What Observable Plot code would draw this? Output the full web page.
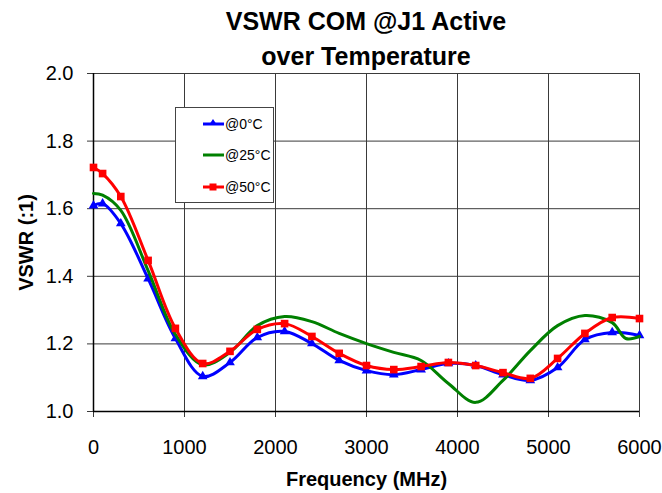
<!DOCTYPE html>
<html>
<head>
<meta charset="utf-8">
<script src="https://cdn.jsdelivr.net/npm/d3@7"></script>
<script src="https://cdn.jsdelivr.net/npm/@observablehq/plot@0.6"></script>
<style>
  html, body { margin: 0; padding: 0; background: #fff; }
  #wrap { position: relative; width: 662px; height: 493px; font-family: "Liberation Sans", Arial, sans-serif; }
  .title { position: relative; height: 62px; }
  .tline { position: absolute; left: 93px; width: 546px; text-align: center; font-size: 25px; line-height: 25px; font-weight: bold; color: #000; white-space: nowrap; }
  #legend { position: absolute; left: 175px; top: 107px; width: 99px; height: 96px; box-sizing: border-box; border: 1px solid #444; background: #fff; }
  .item { position: absolute; left: 27px; height: 16px; display: flex; align-items: center; font-size: 14px; color: #000; }
  .item svg { display: block; margin-right: 1px; }
</style>
</head>
<body>
<div id="wrap">
  <div class="title">
    <div class="tline" style="top:9px">VSWR COM @J1 Active</div>
    <div class="tline" style="top:44px">over Temperature</div>
  </div>
  <div id="chart"></div>
  <div id="legend"></div>
</div>
<script>
// ---- data ----
const freq = [0, 100, 300, 600, 900, 1200, 1500, 1800, 2100, 2400, 2700, 3000, 3300, 3600, 3900, 4200, 4500, 4800, 5100, 5400, 5700, 6000];
const vswr0C  = [1.609, 1.615, 1.556, 1.393, 1.216, 1.104, 1.145, 1.219, 1.237, 1.201, 1.151, 1.121, 1.109, 1.124, 1.142, 1.136, 1.109, 1.092, 1.130, 1.213, 1.234, 1.225];
const vswr50C = [1.722, 1.704, 1.636, 1.447, 1.246, 1.142, 1.178, 1.243, 1.260, 1.222, 1.172, 1.136, 1.124, 1.133, 1.145, 1.136, 1.115, 1.098, 1.157, 1.231, 1.278, 1.275];
const freq25C = [0, 100, 300, 600, 900, 1200, 1500, 1800, 2100, 2400, 2700, 3000, 3300, 3600, 3900, 4200, 4500, 4800, 5100, 5400, 5700, 5850, 6000];
const vswr25C = [1.645, 1.640, 1.595, 1.417, 1.228, 1.138, 1.175, 1.254, 1.281, 1.266, 1.231, 1.201, 1.175, 1.151, 1.083, 1.027, 1.092, 1.180, 1.254, 1.284, 1.263, 1.216, 1.222];
const seriesNames = ["@0°C", "@25°C", "@50°C"];
const seriesColors = ["#0000ff", "#008000", "#ff0000"];
const xTicks = [0, 1000, 2000, 3000, 4000, 5000, 6000];
const yTicks = [1.0, 1.2, 1.4, 1.6, 1.8, 2.0];
const xLabel = "Frequency (MHz)";
const yLabel = "VSWR (:1)";

const d0 = freq.map((f, i) => ({f, v: vswr0C[i]}));
const d50 = freq.map((f, i) => ({f, v: vswr50C[i]}));
const d25 = freq25C.map((f, i) => ({f, v: vswr25C[i]}));

const chart = Plot.plot({
  width: 662,
  height: 431,
  marginTop: 11,
  marginLeft: 93,
  marginRight: 23,
  marginBottom: 82,
  style: {fontFamily: '"Liberation Sans", Arial, sans-serif', fontSize: "20px", color: "#000", background: "#fff", overflow: "visible"},
  x: {domain: [0, 6000]},
  y: {domain: [1, 2]},
  marks: [
    Plot.ruleX(xTicks.slice(1), {stroke: "#3a3a3a", strokeWidth: 1}),
    Plot.ruleY(yTicks.slice(1), {stroke: "#3a3a3a", strokeWidth: 1}),
    Plot.axisX({ticks: xTicks, tickSize: 6, tickPadding: 22, tickFormat: d => String(d), stroke: "#3a3a3a",
      label: xLabel, labelAnchor: "center", labelOffset: 74, labelArrow: "none"}),
    Plot.axisY({ticks: yTicks, tickSize: 6, tickPadding: 14, tickFormat: d => d.toFixed(1), stroke: "#3a3a3a",
      label: yLabel, labelAnchor: "center", labelOffset: 75, labelArrow: "none"}),
    Plot.ruleX([0], {stroke: "#000", strokeWidth: 1.5}),
    Plot.ruleY([1], {stroke: "#000", strokeWidth: 1.5}),
    Plot.line(d0, {x: "f", y: "v", curve: "catmull-rom", stroke: seriesColors[0], strokeWidth: 3}),
    Plot.dot(d0, {x: "f", y: "v", symbol: "triangle", r: 3.6, fill: seriesColors[0], stroke: "none"}),
    Plot.line(d25, {x: "f", y: "v", curve: "catmull-rom", stroke: seriesColors[1], strokeWidth: 3}),
    Plot.line(d50, {x: "f", y: "v", curve: "catmull-rom", stroke: seriesColors[2], strokeWidth: 3}),
    Plot.dot(d50, {x: "f", y: "v", symbol: "square", r: 4.3, fill: seriesColors[2], stroke: "none"})
  ]
});
chart.querySelectorAll('[aria-label="x-axis label"], [aria-label="y-axis label"]').forEach(g => {
  g.setAttribute("font-weight", "bold");
  g.querySelectorAll("text").forEach(t => t.setAttribute("font-weight", "bold"));
});
document.getElementById("chart").appendChild(chart);

// legend
const legend = document.getElementById("legend");
const itemTops = [8, 39, 71];
seriesNames.forEach((name, i) => {
  const div = document.createElement("div");
  div.className = "item";
  div.style.top = itemTops[i] + "px";
  const c = seriesColors[i];
  let marker = "";
  if (i === 0) marker = `<polygon points="10,3 14,9 6,9" fill="${c}"/>`;
  if (i === 2) marker = `<rect x="6.5" y="4.5" width="7" height="7" fill="${c}"/>`;
  div.innerHTML = `<svg width="21" height="16"><line x1="0" x2="21" y1="8" y2="8" stroke="${c}" stroke-width="3"/>${marker}</svg><span>${name}</span>`;
  legend.appendChild(div);
});
</script>
</body>
</html>
